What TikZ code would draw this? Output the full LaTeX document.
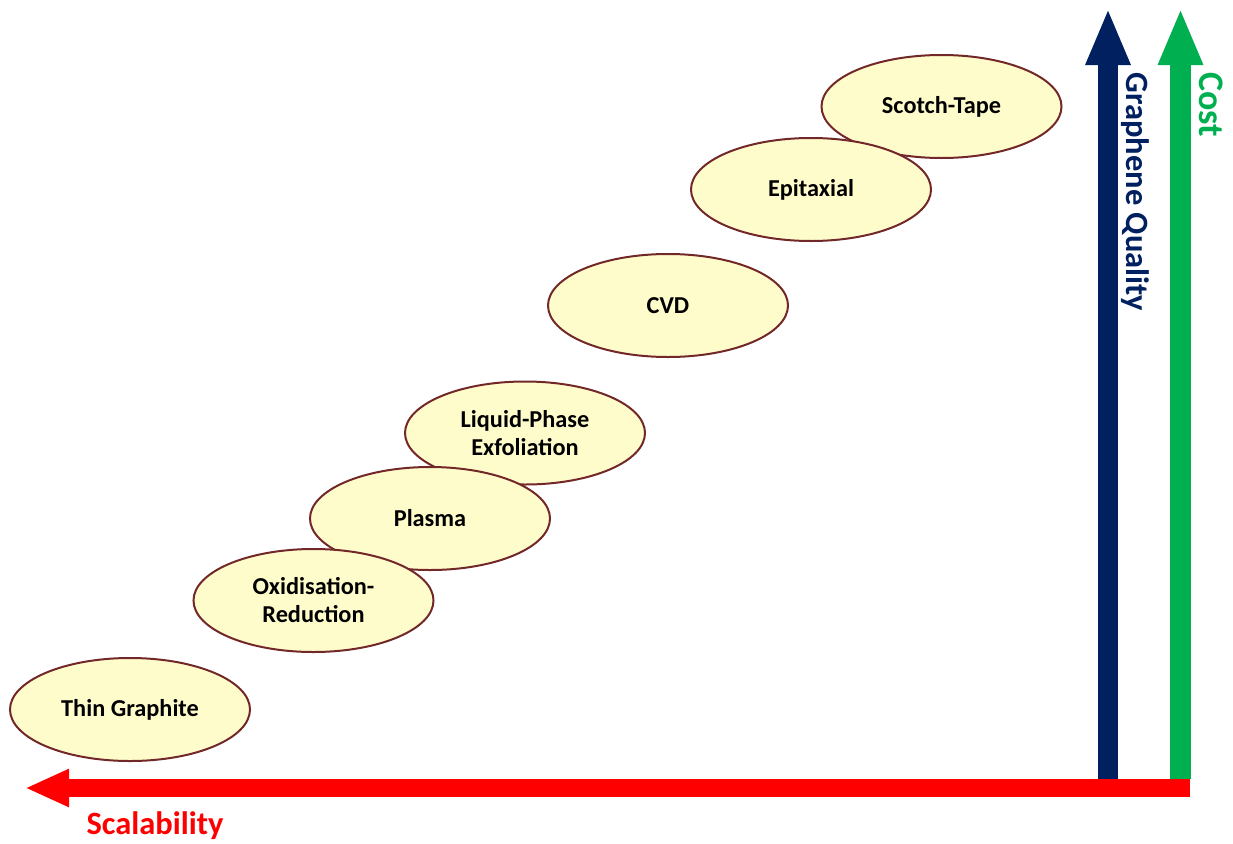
\documentclass[tikz,border=0pt]{standalone}
\usepackage{fontspec}
\setmainfont{Carlito}
\usetikzlibrary{shapes.geometric,arrows.meta}
\definecolor{navyq}{HTML}{002060}
\definecolor{greenc}{HTML}{00B050}
\definecolor{reds}{HTML}{FF0000}
\definecolor{ellfill}{HTML}{FFFCCC}
\definecolor{ellline}{HTML}{722828}
\begin{document}
\begin{tikzpicture}[x=1pt,y=-1pt,
  method/.style={ellipse,draw=ellline,fill=ellfill,line width=2pt,
    minimum width=240pt,minimum height=103pt,inner sep=0pt,
    font=\fontsize{24.3}{28}\selectfont\bfseries,align=center},
  axislabel/.style={font=\fontsize{32.5}{36}\selectfont\bfseries,inner sep=0pt}]
\useasboundingbox (0,0) rectangle (1233,843);
% ellipses (upper ones first, lower ones on top)
\node[method] (scotch) at (941.5,106.5) {Scotch-Tape};
\node[method] (epi) at (811,189.5) {Epitaxial};
\node[method] (cvd) at (668,305.5) {CVD};
\node[method] (lpe) at (525,433) {Liquid-Phase\\Exfoliation};
\node[method] (plasma) at (430,518.5) {Plasma};
\node[method] (oxred) at (313.5,600.5) {Oxidisation-\\Reduction};
\node[method] (thin) at (130,709.5) {Thin Graphite};
% axis coordinates
\coordinate (qbot) at (1108,779);
\coordinate (qtop) at (1108,8);
\coordinate (cbot) at (1180.5,779);
\coordinate (ctop) at (1180.5,8);
\coordinate (sright) at (1190,788);
\coordinate (sleft) at (25,788);
% arrows
\draw[navyq,line width=20pt,-{Triangle[width=41pt,length=57pt]}] (qbot) -- (qtop);
\draw[greenc,line width=21pt,-{Triangle[width=41pt,length=57pt]}] (cbot) -- (ctop);
\draw[reds,line width=18pt,-{Triangle[width=35pt,length=44pt]}] (sright) -- (sleft);
% labels
\node[axislabel,text=navyq,rotate=-90] (qlab) at (1135,192) {Graphene Quality};
\node[axislabel,text=greenc,rotate=-90,font=\fontsize{36}{40}\selectfont\bfseries] (clab) at (1211,104.5) {Cost};
\node[axislabel,text=reds] (slab) at (155,826) {Scalability};
\end{tikzpicture}
\end{document}
